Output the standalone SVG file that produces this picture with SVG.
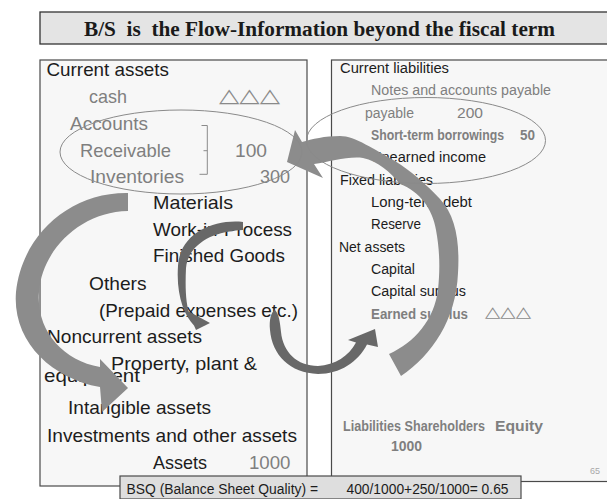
<svg xmlns="http://www.w3.org/2000/svg" width="607" height="499" viewBox="0 0 607 499">
  <style>
    .sans{font-family:"Liberation Sans",Arial,sans-serif}
    .big{font-size:19px}
    .sm{font-size:14px}
    .ink{fill:#1c1c1c}
    .mute{fill:#7f7f7f}
    .bold{font-weight:bold}
    .tri{font-family:"DejaVu Sans",sans-serif;fill:#8a8a8a}
    .panel{fill:#f7f7f7;stroke:#4a4a4a;stroke-width:1.2}
    .ring{fill:none;stroke:#8a8a8a;stroke-width:1}
    .wide{fill:#8c8c8c}
    .thin{fill:#686868}
  </style>

  <rect width="607" height="499" fill="#ffffff"/>

  <!-- heading band -->
  <g id="title">
    <rect x="40" y="12" width="580" height="32" fill="#e4e4e4" stroke="#333" stroke-width="1.3"/>
    <text x="84" y="36" xml:space="preserve" textLength="471" lengthAdjust="spacingAndGlyphs" font-family="'Liberation Serif','Times New Roman',serif" font-weight="bold" font-size="20" fill="#1a1a1a">B/S  is  the Flow-Information beyond the fiscal term</text>
  </g>

  <!-- assets side -->
  <g id="assets">
    <rect class="panel" x="40" y="60" width="267" height="426"/>
    <g class="sans big">
      <text class="ink" x="46.5" y="76" textLength="122.5" lengthAdjust="spacingAndGlyphs">Current assets</text>
      <text class="mute" x="89" y="103" textLength="38" lengthAdjust="spacingAndGlyphs">cash</text>
      <text class="mute" x="70" y="129.5" textLength="78" lengthAdjust="spacingAndGlyphs">Accounts</text>
      <text class="mute" x="80" y="156.5" textLength="91" lengthAdjust="spacingAndGlyphs">Receivable</text>
      <text class="mute" x="235" y="156.5" textLength="32" lengthAdjust="spacingAndGlyphs">100</text>
      <text class="mute" x="90" y="183" textLength="94" lengthAdjust="spacingAndGlyphs">Inventories</text>
      <text class="mute" x="260" y="183" textLength="30" lengthAdjust="spacingAndGlyphs">300</text>
      <text class="ink" x="153" y="209" textLength="80" lengthAdjust="spacingAndGlyphs">Materials</text>
      <text class="ink" x="153" y="235.5" textLength="139" lengthAdjust="spacingAndGlyphs">Work-in-Process</text>
      <text class="ink" x="153" y="262" textLength="132" lengthAdjust="spacingAndGlyphs">Finished Goods</text>
      <text class="ink" x="89" y="290" textLength="57.5" lengthAdjust="spacingAndGlyphs">Others</text>
      <text class="ink" x="99" y="316.5" textLength="199" lengthAdjust="spacingAndGlyphs">(Prepaid expenses etc.)</text>
      <text class="ink" x="47" y="343" textLength="155" lengthAdjust="spacingAndGlyphs">Noncurrent assets</text>
      <text class="ink" x="111" y="370" textLength="146" lengthAdjust="spacingAndGlyphs">Property, plant &amp;</text>
      <text class="ink" x="44" y="381.5" textLength="96" lengthAdjust="spacingAndGlyphs">equipment</text>
      <text class="ink" x="68" y="414" textLength="143" lengthAdjust="spacingAndGlyphs">Intangible assets</text>
      <text class="ink" x="47" y="441.5" textLength="250" lengthAdjust="spacingAndGlyphs">Investments and other assets</text>
      <text class="ink" x="153" y="469" textLength="54" lengthAdjust="spacingAndGlyphs">Assets</text>
      <text class="mute" x="249" y="469" textLength="41.5" lengthAdjust="spacingAndGlyphs">1000</text>
    </g>
    <text class="tri" x="219" y="102" font-size="19" textLength="61" lengthAdjust="spacingAndGlyphs">△△△</text>
    <!-- brace joining receivables and inventories -->
    <path d="M201.5,125.5 H207.3 V174.3 H199.5 M207.3,150.7 H203.5" fill="none" stroke="#8a8a8a" stroke-width="1"/>
  </g>

  <!-- liabilities and equity side -->
  <g id="liabilities">
    <rect class="panel" x="331.5" y="60" width="290" height="421.5"/>
    <g class="sans sm">
      <text class="ink" x="340" y="72.5" textLength="109" lengthAdjust="spacingAndGlyphs">Current liabilities</text>
      <text class="mute" x="371" y="95" textLength="180" lengthAdjust="spacingAndGlyphs">Notes and accounts payable</text>
      <text class="mute" x="365" y="117.5" textLength="49" lengthAdjust="spacingAndGlyphs">payable</text>
      <text class="mute" x="457" y="117.5" textLength="26" lengthAdjust="spacingAndGlyphs">200</text>
      <text class="mute bold" x="371" y="140" font-size="14.5" textLength="133" lengthAdjust="spacingAndGlyphs">Short-term borrowings</text>
      <text class="mute bold" x="520" y="140" font-size="14.5" textLength="15" lengthAdjust="spacingAndGlyphs">50</text>
      <text class="ink" x="371" y="161.5" textLength="115" lengthAdjust="spacingAndGlyphs">Unearned income</text>
      <text class="ink" x="340" y="184.5" textLength="93" lengthAdjust="spacingAndGlyphs">Fixed liabilities</text>
      <text class="ink" x="371" y="206.5" textLength="101" lengthAdjust="spacingAndGlyphs">Long-term debt</text>
      <text class="ink" x="371" y="229" textLength="50" lengthAdjust="spacingAndGlyphs">Reserve</text>
      <text class="ink" x="339" y="251.5" textLength="66" lengthAdjust="spacingAndGlyphs">Net assets</text>
      <text class="ink" x="371" y="273.5" textLength="44" lengthAdjust="spacingAndGlyphs">Capital</text>
      <text class="ink" x="371" y="296" textLength="95" lengthAdjust="spacingAndGlyphs">Capital surplus</text>
      <text class="mute bold" x="371" y="318.5" font-size="14.5" textLength="97" lengthAdjust="spacingAndGlyphs">Earned surplus</text>
      <text class="mute bold" x="343" y="430.5" font-size="15.5" textLength="142" lengthAdjust="spacingAndGlyphs">Liabilities Shareholders</text>
      <text class="mute bold" x="495" y="430.5" font-size="15.5" textLength="48" lengthAdjust="spacingAndGlyphs">Equity</text>
      <text class="mute bold" x="391" y="450.5" font-size="15.5" textLength="31" lengthAdjust="spacingAndGlyphs">1000</text>
    </g>
    <text class="tri" x="485" y="317" font-size="15" textLength="46" lengthAdjust="spacingAndGlyphs">△△△</text>
    <text class="sans" x="590" y="474" font-size="9" fill="#a8a8a8">65</text>
  </g>

  <!-- flow arrows -->
  <g id="connectors">
    <!-- inventories down to fixed assets -->
    <path class="wide" d="M128,193 C70,192 22,235 16,292 C12,340 50,378 100,387 L102,412 L128,388 L100,359 L100,367 C62,360 36,330 39,292 C42,250 80,212 128,211 Z"/>
    <!-- earned surplus back up to current assets -->
    <path class="wide" d="M401,376 C432,355 456,320 458,273 C460,240 455,215 440,199 C428,186 410,170 395,161 C375,150 355,136 340,136 C325,136 312,139 302,142 L295,130 L287,162 L323,178 L314,164 C330,162 348,156 363,158 C378,161 390,172 400,184 C420,192 432,208 436,230 C440,252 440,270 438,290 C434,320 415,342 389,354 Z"/>
    <!-- work-in-process down to noncurrent -->
    <path class="thin" d="M243,222 C212,219 180,234 178,266 C176,295 184,315 194,325.5 L196,330 L210,323 L188,311 L190,315.5 C186,305 185,290 186,268 C188,245 212,231 243,230 Z"/>
    <!-- prepaid expenses over to earned surplus -->
    <path class="thin" d="M275,310 C271,312 269,320 270,330 C272,355 290,373 318,374 C340,374 358,362 367,344.5 L378,347 L375,329 L348,340 L356,342.5 C349,356 335,365 318,366 C297,366 283,352 281,332 C280,322 279,314 275,310 Z"/>
  </g>

  <!-- groupings of the quick items -->
  <g id="groups">
    <ellipse class="ring" cx="181" cy="152" rx="121" ry="42"/>
    <ellipse class="ring" cx="426" cy="140.5" rx="119.5" ry="43"/>
  </g>

  <!-- quality ratio footer -->
  <g id="bsq">
    <rect x="120" y="476" width="401" height="23" fill="#dedede" stroke="#4a4a4a" stroke-width="1.2"/>
    <text class="sans ink" x="126.5" y="493.5" font-size="14" textLength="191.5" lengthAdjust="spacingAndGlyphs">BSQ (Balance Sheet Quality) =</text>
    <text class="sans ink" x="346.5" y="493.5" font-size="14" textLength="162" lengthAdjust="spacingAndGlyphs">400/1000+250/1000= 0.65</text>
  </g>
</svg>
